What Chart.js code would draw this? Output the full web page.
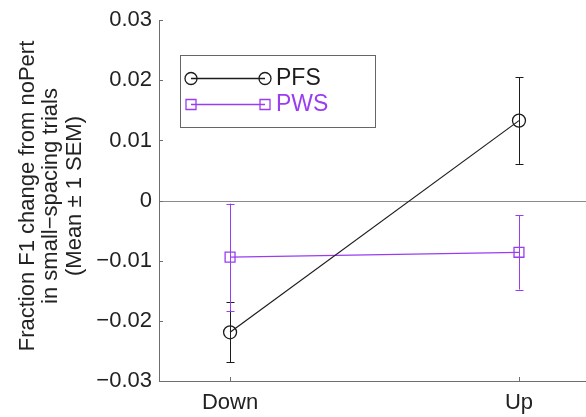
<!DOCTYPE html>
<html>
<head>
<meta charset="utf-8">
<script src="https://cdn.jsdelivr.net/npm/chart.js@4/dist/chart.umd.min.js"></script>
<style>
  html, body { margin: 0; padding: 0; background: #fff; }
  #wrap { width: 586px; height: 417px; }
</style>
</head>
<body>
<div id="wrap"><canvas id="f1-chart" width="586" height="417"></canvas></div>
<script>
// categories on the x axis (plotted at x = 1, 2)
var categories = ['Down', 'Up'];
var catX = [1, 2];

// mean +/- 1 SEM
var pfsMean = [-0.0219, 0.0133];
var pfsSem  = [0.0050, 0.0072];
var pwsMean = [-0.0094, -0.0086];
var pwsSem  = [0.0089, 0.0062];

var yTicks = [-0.03, -0.02, -0.01, 0, 0.01, 0.02, 0.03];
var yTitle = ['Fraction F1 change from noPert', 'in small\u2212spacing trials', '(Mean \u00b1 1 SEM)'];

var BLACK = '#1c1c1c';
var PURPLE = '#9a3cf2';
var AXIS = '#6e6e6e';
var FONT = '"Liberation Sans", Arial, Helvetica, sans-serif';

function pts(means) {
  return means.map(function (m, i) { return { x: catX[i], y: m }; });
}

function fmtTick(v) {
  var r = Math.round(v * 100) / 100;
  if (r === 0) return '0';
  var s = Math.abs(r).toFixed(2);
  return r < 0 ? '\u2212' + s : s;
}

// error bars drawn through the scales
var errorBars = {
  id: 'errorBars',
  beforeDatasetsDraw: function (chart) {
    var ctx = chart.ctx;
    var xs = chart.scales.x, ys = chart.scales.y;
    var sets = [[pfsMean, pfsSem, BLACK], [pwsMean, pwsSem, PURPLE]];
    ctx.save();
    ctx.lineWidth = 1;
    sets.forEach(function (s) {
      ctx.strokeStyle = s[2];
      s[0].forEach(function (m, i) {
        var px = Math.round(xs.getPixelForValue(catX[i])) + 0.5;
        var top = ys.getPixelForValue(m + s[1][i]);
        var bot = ys.getPixelForValue(m - s[1][i]);
        ctx.beginPath();
        ctx.moveTo(px, top); ctx.lineTo(px, bot);
        ctx.moveTo(px - 4, Math.round(top) + 0.5); ctx.lineTo(px + 4, Math.round(top) + 0.5);
        ctx.moveTo(px - 4, Math.round(bot) + 0.5); ctx.lineTo(px + 4, Math.round(bot) + 0.5);
        ctx.stroke();
      });
    });
    ctx.restore();
  }
};

// zero line, inward ticks, axis title, legend
var decorations = {
  id: 'decorations',
  beforeDatasetsDraw: function (chart) {
    var ctx = chart.ctx, a = chart.chartArea;
    var ys = chart.scales.y;
    var y0 = Math.round(ys.getPixelForValue(0)) + 0.5;
    ctx.save();
    ctx.strokeStyle = '#8a8a8a';
    ctx.lineWidth = 1;
    ctx.beginPath();
    ctx.moveTo(a.left, y0); ctx.lineTo(a.right, y0);
    ctx.stroke();
    ctx.restore();
  },
  afterDraw: function (chart) {
    var ctx = chart.ctx, a = chart.chartArea;
    var xs = chart.scales.x, ys = chart.scales.y;
    ctx.save();
    // inward tick marks
    ctx.strokeStyle = AXIS;
    ctx.lineWidth = 1;
    ctx.beginPath();
    yTicks.forEach(function (t) {
      var py = Math.round(ys.getPixelForValue(t)) + 0.5;
      ctx.moveTo(a.left, py); ctx.lineTo(a.left + 4, py);
    });
    catX.forEach(function (c) {
      var px = Math.round(xs.getPixelForValue(c)) + 0.5;
      ctx.moveTo(px, a.bottom); ctx.lineTo(px, a.bottom - 4);
    });
    ctx.stroke();

    // y axis title, three lines rotated
    ctx.fillStyle = '#222';
    ctx.font = '22px ' + FONT;
    ctx.textAlign = 'center';
    ctx.textBaseline = 'alphabetic';
    ctx.translate(0, 196);
    ctx.rotate(-Math.PI / 2);
    var baseX = [34, 57, 81];
    yTitle.forEach(function (line, i) {
      ctx.fillText(line, 0, baseX[i]);
    });
    ctx.restore();

    // legend box
    ctx.save();
    var bx = 180.5, by = 55.5, bw = 195, bh = 72;
    ctx.fillStyle = '#fff';
    ctx.fillRect(bx, by, bw, bh);
    ctx.strokeStyle = '#666';
    ctx.lineWidth = 1;
    ctx.strokeRect(bx, by, bw, bh);
    var items = [
      { label: 'PFS', color: BLACK, shape: 'circle', y: 78 },
      { label: 'PWS', color: PURPLE, shape: 'rect', y: 104 }
    ];
    items.forEach(function (it) {
      ctx.strokeStyle = it.color;
      ctx.lineWidth = 1.3;
      ctx.beginPath();
      ctx.moveTo(191, it.y + 0.5); ctx.lineTo(265, it.y + 0.5);
      ctx.stroke();
      [191, 265].forEach(function (mx) {
        ctx.beginPath();
        if (it.shape === 'circle') {
          ctx.arc(mx, it.y + 0.5, 6, 0, Math.PI * 2);
        } else {
          ctx.rect(mx - 5, it.y - 4.5, 10, 10);
        }
        ctx.stroke();
      });
      ctx.fillStyle = it.color;
      ctx.font = '23px ' + FONT;
      ctx.textAlign = 'left';
      ctx.textBaseline = 'middle';
      ctx.fillText(it.label, 276, it.y + 1);
    });
    ctx.restore();
  }
};

var chart = new Chart(document.getElementById('f1-chart').getContext('2d'), {
  type: 'scatter',
  data: {
    datasets: [{
      label: 'PFS',
      data: pts(pfsMean),
      showLine: true,
      borderColor: BLACK,
      borderWidth: 1.2,
      pointStyle: 'circle',
      pointRadius: 6.5,
      pointBorderWidth: 1.3,
      pointBorderColor: BLACK,
      pointBackgroundColor: 'rgba(0,0,0,0)',
    }, {
      label: 'PWS',
      data: pts(pwsMean),
      showLine: true,
      borderColor: PURPLE,
      borderWidth: 1.2,
      pointStyle: 'rect',
      pointRadius: 7,
      pointBorderWidth: 1.3,
      pointBorderColor: PURPLE,
      pointBackgroundColor: 'rgba(0,0,0,0)',
    }],
  },
  options: {
    responsive: false,
    animation: false,
    layout: { autoPadding: false, padding: { top: 19, left: 0, right: 0, bottom: 0 } },
    plugins: {
      legend: { display: false },
      tooltip: { enabled: false },
    },
    scales: {
      x: {
        type: 'linear',
        min: 0.754,
        max: 2.232,
        afterBuildTicks: function (scale) {
          scale.ticks = catX.map(function (v) { return { value: v }; });
        },
        afterFit: function (scale) {
          scale.height = 36;
          scale.paddingLeft = 0;
          scale.paddingRight = 0;
        },
        grid: { display: false, drawTicks: false },
        border: { display: true, color: AXIS, width: 1 },
        ticks: {
          padding: 9,
          color: '#222',
          font: { family: FONT, size: 22 },
          maxRotation: 0,
          callback: function (v) { return categories[catX.indexOf(v)] || ''; },
        },
      },
      y: {
        min: -0.03,
        max: 0.03,
        afterBuildTicks: function (scale) {
          scale.ticks = yTicks.map(function (v) { return { value: v }; });
        },
        afterFit: function (scale) { scale.width = 159; },
        grid: { display: false, drawTicks: false },
        border: { display: true, color: AXIS, width: 1 },
        ticks: {
          padding: 7,
          color: '#222',
          font: { family: FONT, size: 22 },
          callback: function (v) { return fmtTick(v); },
        },
      },
    },
  },
  plugins: [decorations, errorBars],
});
</script>
</body>
</html>
